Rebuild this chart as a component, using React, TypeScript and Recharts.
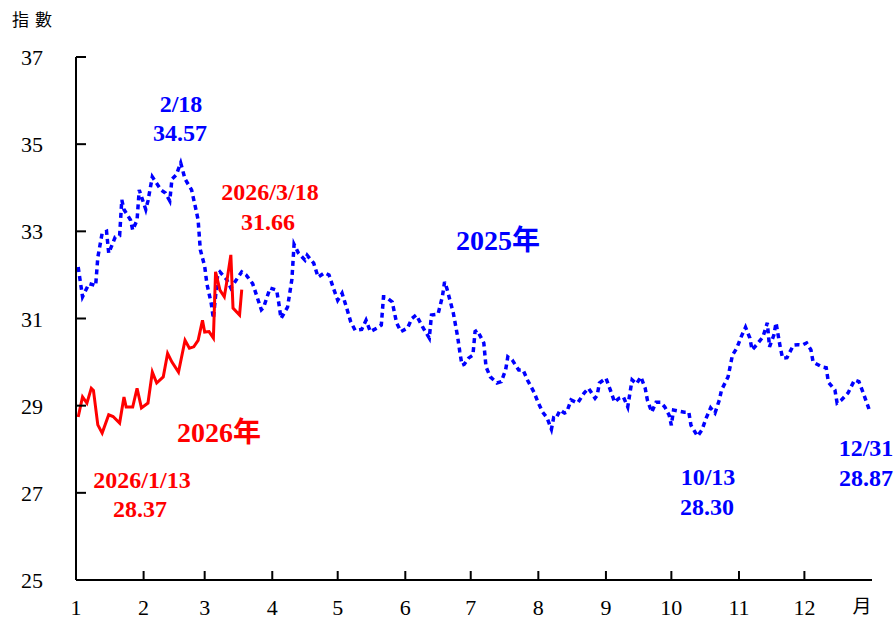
import { Line, LineChart, XAxis, YAxis } from 'recharts';

const MONTH_START = [0, 31, 59, 90, 120, 151, 181, 212, 243, 273, 304, 334];

const monthTicks = [0, 31, 59, 90, 120, 151, 181, 212, 243, 273, 304, 334, 365];
const monthLabels = ['1', '2', '3', '4', '5', '6', '7', '8', '9', '10', '11', '12', '月'];
const yTicks = [25, 27, 29, 31, 33, 35, 37];

// 2025 daily index (blue dashed)
const dates2025 = [
    '1/2', '1/4', '1/7', '1/9', '1/10', '1/11', '1/13', '1/15', '1/16', '1/19', '1/21', '1/22', '1/23', '1/26', '1/27', '1/29', '1/30',
    '2/2', '2/3', '2/5', '2/7', '2/9', '2/11', '2/13', '2/14', '2/16', '2/18', '2/20', '2/23', '2/25', '2/26', '2/27',
    '3/1', '3/2', '3/4', '3/5', '3/7', '3/8', '3/11', '3/13', '3/15', '3/18', '3/20', '3/23', '3/25', '3/27', '3/28', '3/31',
    '4/3', '4/4', '4/5', '4/8', '4/10', '4/11', '4/13', '4/16', '4/17', '4/20', '4/22', '4/25', '4/27', '4/29',
    '5/1', '5/3', '5/5', '5/7', '5/9', '5/12', '5/14', '5/16', '5/19', '5/21', '5/22', '5/23', '5/26', '5/28', '5/30',
    '6/2', '6/4', '6/6', '6/9', '6/12', '6/13', '6/16', '6/18', '6/19', '6/20', '6/23', '6/25', '6/26', '6/27', '6/28', '6/30',
    '7/2', '7/3', '7/4', '7/7', '7/8', '7/10', '7/13', '7/15', '7/17', '7/18', '7/20', '7/23', '7/25', '7/27', '7/30',
    '8/1', '8/3', '8/5', '8/7', '8/8', '8/9', '8/11', '8/13', '8/14', '8/16', '8/19', '8/22', '8/24', '8/27', '8/28', '8/29',
    '9/1', '9/3', '9/5', '9/7', '9/9', '9/11', '9/12', '9/13', '9/15', '9/17', '9/19', '9/20', '9/22', '9/24', '9/26', '9/28', '9/30',
    '10/1', '10/2', '10/7', '10/9', '10/10', '10/13', '10/15', '10/17', '10/19', '10/21', '10/23', '10/24', '10/27', '10/29', '10/31',
    '11/2', '11/4', '11/6', '11/7', '11/9', '11/12', '11/14', '11/15', '11/17', '11/18', '11/20', '11/21', '11/23', '11/26', '11/28', '11/30',
    '12/2', '12/4', '12/5', '12/9', '12/11', '12/12', '12/15', '12/16', '12/18', '12/21', '12/24', '12/26', '12/28', '12/31',
];
const values2025 = [
    32.18, 31.5, 31.8, 31.77, 31.75, 32.4, 32.96, 33.0, 32.5, 32.87, 32.9, 33.72, 33.5, 33.26, 33.03, 33.26, 33.95,
    33.5, 33.7, 34.25, 34.1, 33.95, 33.88, 33.7, 34.2, 34.3, 34.57, 34.2, 33.95, 33.5, 33.26, 32.58,
    32.2, 31.8, 31.35, 31.0, 32.02, 32.07, 31.9, 31.7, 31.85, 32.07, 32.0, 31.8, 31.5, 31.2, 31.25, 31.7,
    31.65, 31.35, 31.0, 31.26, 31.9, 32.7, 32.5, 32.34, 32.45, 32.27, 31.95, 32.05, 32.0, 31.7,
    31.42, 31.58, 31.26, 30.92, 30.73, 30.75, 30.96, 30.7, 30.78, 30.85, 31.5, 31.5, 31.38, 30.9, 30.7,
    30.78, 31.0, 31.08, 30.8, 30.55, 31.08, 31.1, 31.5, 31.84, 31.7, 31.13, 30.58, 30.23, 29.93, 29.95, 30.09,
    30.16, 30.7, 30.73, 30.44, 29.89, 29.66, 29.52, 29.55, 29.82, 30.12, 30.05, 29.82, 29.82, 29.59, 29.31,
    29.06, 28.85, 28.72, 28.46, 28.72, 28.7, 28.9, 28.83, 28.85, 29.13, 29.06, 29.29, 29.4, 29.17, 29.24, 29.52,
    29.63, 29.36, 29.08, 29.17, 29.2, 28.97, 29.29, 29.59, 29.5, 29.66, 29.4, 29.13, 28.85, 29.08, 29.08, 28.97, 28.78,
    28.55, 28.9, 28.85, 28.85, 28.55, 28.3, 28.44, 28.72, 28.95, 28.83, 29.13, 29.36, 29.66, 30.16, 30.32,
    30.58, 30.8, 30.55, 30.28, 30.39, 30.58, 30.9, 30.35, 30.62, 30.9, 30.32, 30.09, 30.1, 30.39, 30.4, 30.39,
    30.44, 30.28, 30.0, 29.89, 29.87, 29.54, 29.36, 29.06, 29.13, 29.29, 29.59, 29.55, 29.29, 28.87,
];

// 2026 daily index (red solid)
const dates2026 = [
    '1/2', '1/4', '1/6', '1/8', '1/9', '1/11', '1/13', '1/16', '1/18', '1/21', '1/23', '1/24', '1/27', '1/29', '1/31',
    '2/3', '2/5', '2/7', '2/10', '2/12', '2/14', '2/17', '2/20', '2/22', '2/24', '2/26', '2/28',
    '3/1', '3/3', '3/5', '3/6', '3/8', '3/10', '3/11', '3/13', '3/14', '3/17', '3/18',
];
const values2026 = [
    28.74, 29.2, 29.06, 29.4, 29.35, 28.56, 28.37, 28.79, 28.75, 28.6, 29.2, 28.97, 28.97, 29.4, 28.95,
    29.06, 29.77, 29.52, 29.66, 30.2, 30.0, 29.77, 30.5, 30.32, 30.35, 30.5, 30.96,
    30.69, 30.7, 30.55, 32.07, 31.65, 31.5, 31.8, 32.46, 31.24, 31.08, 31.66,
];

const dayOfYear = (md: string) => {
    const [m, d] = md.split('/').map(Number);
    return MONTH_START[m - 1] + d - 1;
};

const series2025 = dates2025.map((d, i) => ({ day: dayOfYear(d), v: values2025[i] }));
const series2026 = dates2026.map((d, i) => ({ day: dayOfYear(d), v: values2026[i] }));

const SERIF = "'Liberation Serif', 'Times New Roman', serif";
const CJK = "'Liberation Serif', 'Noto Sans CJK TC', serif";

const YTick = ({ x, y, payload }: any) => (
    <g>
        {payload.value !== 25 && (
            <line x1={x + 33} x2={x + 43} y1={y} y2={y} stroke="#000" strokeWidth={2} />
        )}
        <text x={x} y={y} dy={8} textAnchor="end" fontFamily={SERIF} fontSize={22} fill="#000">
            {payload.value}
        </text>
    </g>
);

const XTick = ({ x, y, payload, index }: any) => {
    const isStart = payload.value === 0;
    const isEnd = payload.value === 365;
    return (
        <g>
            {!isStart && !isEnd && <line x1={x} x2={x} y1={y} y2={y - 9} stroke="#000" strokeWidth={2} />}
            <text
                x={isEnd ? x - 10 : x}
                y={y}
                dy={isEnd ? 33 : 35}
                textAnchor="middle"
                fontFamily={isEnd ? "'Noto Sans CJK TC', sans-serif" : SERIF}
                fontSize={isEnd ? 19 : 22}
                fill="#000"
            >
                {monthLabels[index]}
            </text>
        </g>
    );
};

const notes = [
    { t: '2/18', x: 181, y: 112, c: '#0000ff', s: 24 },
    { t: '34.57', x: 180, y: 141, c: '#0000ff', s: 24 },
    { t: '2026/3/18', x: 270, y: 200, c: '#ff0000', s: 24 },
    { t: '31.66', x: 268, y: 230, c: '#ff0000', s: 24 },
    { t: '2025年', x: 498, y: 250, c: '#0000ff', s: 28 },
    { t: '2026年', x: 219, y: 442, c: '#ff0000', s: 28 },
    { t: '2026/1/13', x: 142, y: 488, c: '#ff0000', s: 24 },
    { t: '28.37', x: 140, y: 517, c: '#ff0000', s: 24 },
    { t: '10/13', x: 708, y: 485, c: '#0000ff', s: 24 },
    { t: '28.30', x: 707, y: 515, c: '#0000ff', s: 24 },
    { t: '12/31', x: 866, y: 456, c: '#0000ff', s: 24 },
    { t: '28.87', x: 866, y: 486, c: '#0000ff', s: 24 },
];

export default function App() {
    return (
        <div style={{ position: 'absolute', left: 0, top: 0, width: 896, height: 620, background: '#fff' }}>
            <LineChart width={896} height={620} margin={{ top: 57, right: 24, bottom: 0, left: 0 }}>
                <XAxis
                    type="number"
                    dataKey="day"
                    domain={[0, 365]}
                    ticks={monthTicks}
                    interval={0}
                    height={40}
                    tickSize={0}
                    tickMargin={0}
                    tickLine={false}
                    axisLine={{ stroke: '#000', strokeWidth: 2 }}
                    tick={<XTick />}
                />
                <YAxis
                    type="number"
                    domain={[25, 37]}
                    ticks={yTicks}
                    interval={0}
                    width={76}
                    tickSize={0}
                    tickMargin={33}
                    tickLine={false}
                    axisLine={{ stroke: '#000', strokeWidth: 2 }}
                    tick={<YTick />}
                />
                <Line
                    data={series2025}
                    dataKey="v"
                    type="linear"
                    stroke="#0000ff"
                    strokeWidth={3.5}
                    strokeDasharray="5 4"
                    dot={false}
                    isAnimationActive={false}
                />
                <Line
                    data={series2026}
                    dataKey="v"
                    type="linear"
                    stroke="#ff0000"
                    strokeWidth={3}
                    dot={false}
                    isAnimationActive={false}
                />
            </LineChart>
            <svg width={896} height={620} style={{ position: 'absolute', left: 0, top: 0, pointerEvents: 'none' }}>
                <text x={12} y={26} fontFamily="'Noto Sans CJK TC', sans-serif" fontSize={17} letterSpacing={6} fill="#000">
                    指數
                </text>
                {notes.map((n) => (
                    <text
                        key={n.t}
                        x={n.x}
                        y={n.y}
                        textAnchor="middle"
                        fontFamily={CJK}
                        fontWeight="bold"
                        fontSize={n.s}
                        fill={n.c}
                    >
                        {n.t}
                    </text>
                ))}
            </svg>
        </div>
    );
}
